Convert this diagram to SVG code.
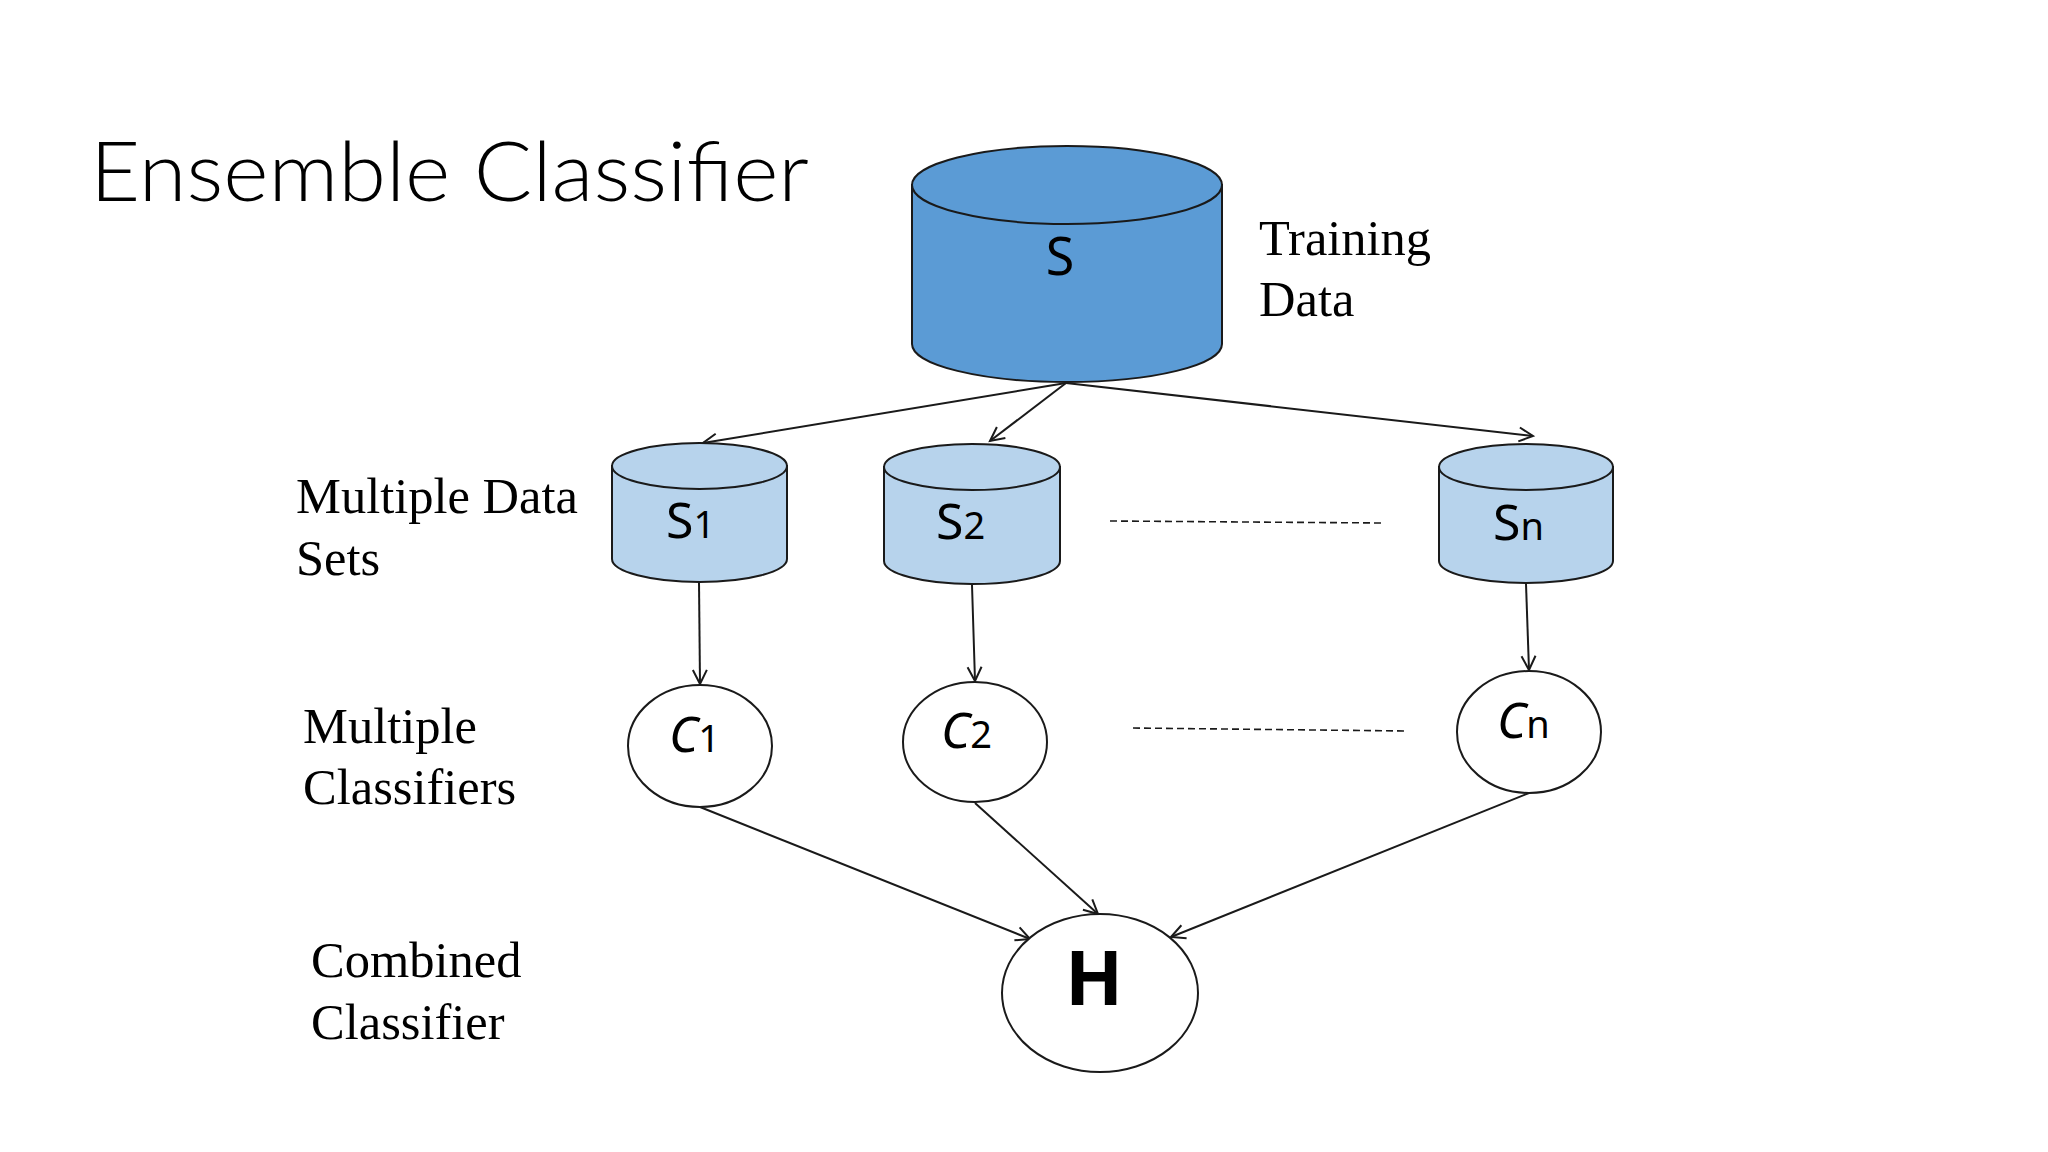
<svg xmlns="http://www.w3.org/2000/svg" width="2048" height="1152" viewBox="0 0 2048 1152">
<defs>
<marker id="arr" markerUnits="userSpaceOnUse" markerWidth="20" markerHeight="20" viewBox="0 0 20 20" refX="16" refY="10" orient="auto">
<path d="M2,3 L16,10 L2,17" fill="none" stroke="#1a1a1a" stroke-width="2"/>
</marker>
</defs>
<style>
.title{font-family:Lato,"Open Sans","Liberation Sans",sans-serif;font-weight:300;font-size:82px;fill:#000}
.lbl{font-family:"Liberation Serif","Times New Roman",serif;font-size:50.5px;fill:#000}
.node{font-family:"Noto Sans","DejaVu Sans",sans-serif;font-size:50px;fill:#000}
.sub{font-size:38px}
.bigtxt{font-size:52px}
.htxt{font-size:76px;font-weight:bold}
.ital{font-style:italic}
.norm{font-style:normal}
.big{fill:#5B9BD5;stroke:#1a1a1a;stroke-width:2}
.small{fill:#B7D3EC;stroke:#1a1a1a;stroke-width:2}
.circ{fill:#fff;stroke:#1a1a1a;stroke-width:2}
.edge{stroke:#1a1a1a;stroke-width:2;fill:none;marker-end:url(#arr)}
.dash{stroke:#1a1a1a;stroke-width:1.6;stroke-dasharray:7 4;fill:none}
</style>
<rect width="2048" height="1152" fill="#fff"/>

<text class="title" x="90" y="201" textLength="719" lengthAdjust="spacingAndGlyphs">Ensemble Classifier</text>

<g id="labels">
<text class="lbl" x="1259" y="255">Training</text>
<text class="lbl" x="1259" y="316">Data</text>
<text class="lbl" x="296" y="513">Multiple Data</text>
<text class="lbl" x="296" y="575">Sets</text>
<text class="lbl" x="303" y="743">Multiple</text>
<text class="lbl" x="303" y="804">Classifiers</text>
<text class="lbl" x="311" y="977">Combined</text>
<text class="lbl" x="311" y="1039">Classifier</text>
</g>

<g id="connectors">
<line class="edge" x1="1066" y1="383" x2="703" y2="443"/>
<line class="edge" x1="1066" y1="383" x2="990" y2="441"/>
<line class="edge" x1="1066" y1="383" x2="1533" y2="436"/>
<line class="edge" x1="699" y1="582" x2="700" y2="684"/>
<line class="edge" x1="972" y1="585" x2="975" y2="681"/>
<line class="edge" x1="1526" y1="584" x2="1529" y2="670"/>
<line class="edge" x1="700" y1="807" x2="1030" y2="939"/>
<line class="edge" x1="975" y1="803" x2="1098" y2="914"/>
<line class="edge" x1="1529" y1="793" x2="1171" y2="937"/>
<line class="dash" x1="1110" y1="521" x2="1383" y2="523"/>
<line class="dash" x1="1133" y1="728" x2="1406" y2="731"/>
</g>

<g id="node-S">
<path class="big" d="M912,185 V344 A155,38 0 0 0 1222,344 V185 Z"/>
<ellipse class="big" cx="1067" cy="185" rx="155" ry="39"/>
<text class="node bigtxt" x="1060" y="275" text-anchor="middle">S</text>
</g>

<g id="node-S1">
<path class="small" d="M612,466 V559 A87.5,23 0 0 0 787,559 V466 Z"/>
<ellipse class="small" cx="699.5" cy="466" rx="87.5" ry="23"/>
<text class="node" x="666" y="538">S<tspan class="sub">1</tspan></text>
</g>

<g id="node-S2">
<path class="small" d="M884,467 V561 A88,23 0 0 0 1060,561 V467 Z"/>
<ellipse class="small" cx="972" cy="467" rx="88" ry="23"/>
<text class="node" x="936" y="539">S<tspan class="sub">2</tspan></text>
</g>

<g id="node-Sn">
<path class="small" d="M1439,467 V561 A87,22 0 0 0 1613,561 V467 Z"/>
<ellipse class="small" cx="1526" cy="467" rx="87" ry="23"/>
<text class="node" x="1493" y="540">S<tspan class="sub">n</tspan></text>
</g>

<g id="node-C1">
<ellipse class="circ" cx="700" cy="746" rx="72" ry="61"/>
<text class="node ital" x="669" y="752">C<tspan class="sub norm">1</tspan></text>
</g>

<g id="node-C2">
<ellipse class="circ" cx="975" cy="742" rx="72" ry="60"/>
<text class="node ital" x="941" y="748">C<tspan class="sub norm">2</tspan></text>
</g>

<g id="node-Cn">
<ellipse class="circ" cx="1529" cy="732" rx="72" ry="61"/>
<text class="node ital" x="1497" y="738">C<tspan class="sub norm">n</tspan></text>
</g>

<g id="node-H">
<ellipse class="circ" cx="1100" cy="993" rx="98" ry="79"/>
<text class="node htxt" x="1094" y="1005" text-anchor="middle">H</text>
</g>
</svg>
